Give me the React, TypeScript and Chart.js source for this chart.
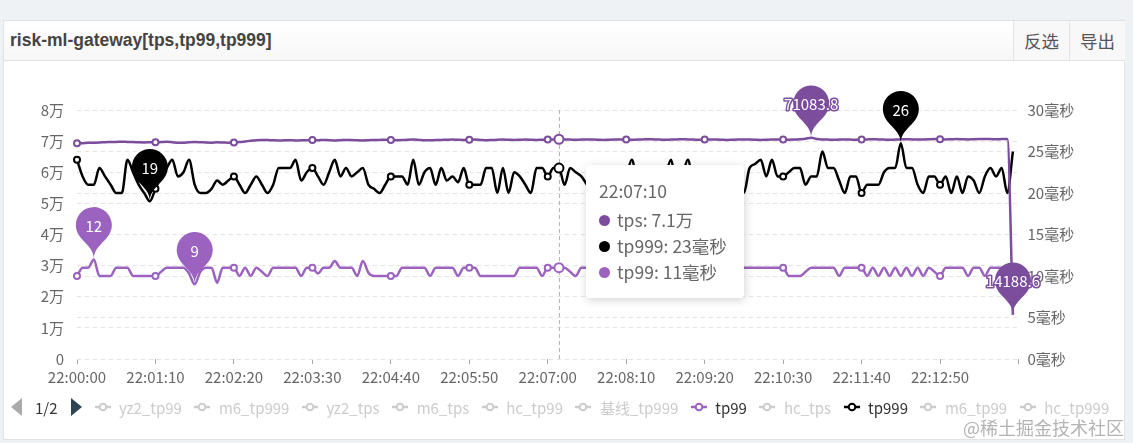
import React, { useEffect, useRef } from 'react';
import { Chart, registerables } from 'chart.js';

Chart.register(...registerables);

const FONT = '"Noto Sans CJK SC", "Noto Sans", sans-serif';

// ---------- categories (5-second samples from 22:00:00) ----------
const START_SECONDS = 22 * 3600;
const STEP_SECONDS = 5;
const CATEGORY_COUNT = 169;
const pad2 = (n: number) => (n < 10 ? '0' + n : String(n));
const categories: string[] = [];
for (let i = 0; i < CATEGORY_COUNT; i++) {
  const t = START_SECONDS + i * STEP_SECONDS;
  categories.push(`${pad2(Math.floor(t / 3600))}:${pad2(Math.floor((t % 3600) / 60))}:${pad2(t % 60)}`);
}
const LABEL_EVERY = 14;
const HOVER_INDEX = 86;

// ---------- series ----------
const tpsValues = [
  69300, 69350, 69450, 69500, 69550, 69650, 69700, 69750, 69800, 69750, 69700, 69600, 69550, 69650, 69600,
  69700, 69800, 69650, 69450, 69500, 69650, 69700, 69650, 69550, 69500, 69600, 69550, 69500, 69550,
  69700, 69900, 70100, 70300, 70400, 70350, 70250, 70200, 70250, 70300, 70200, 70250, 70300, 70350,
  70250, 70400, 70300, 70200, 70300, 70400, 70350, 70250, 70200, 70300, 70350, 70400, 70450, 70400,
  70300, 70350, 70450, 70500, 70400, 70300, 70250, 70350, 70400, 70450, 70500, 70450, 70400, 70450,
  70500, 70400, 70300, 70350, 70450, 70500, 70450, 70400, 70450, 70500, 70450, 70400, 70450, 70500,
  70550, 70600, 70550, 70500, 70450, 70500, 70550, 70500, 70450, 70400, 70450, 70500, 70550, 70500,
  70450, 70500, 70550, 70600, 70550, 70500, 70450, 70500, 70550, 70600, 70550, 70500, 70450, 70500,
  70550, 70500, 70450, 70400, 70450, 70500, 70550, 70500, 70450, 70400, 70450, 70500, 70550, 70500,
  70450, 70500, 70600, 70750, 71083.8, 70700, 70550, 70500, 70450, 70500, 70550, 70500, 70450, 70500,
  70550, 70600, 70550, 70500, 70450, 70500, 70550, 70600, 70550, 70500, 70550, 70600, 70650, 70600,
  70550, 70600, 70650, 70600, 70550, 70600, 70650, 70700, 70650, 70600, 70650, 70700, 14188.6,
];

const tp999Values = [
  24, 22, 21, 21, 23, 22, 21, 20, 20, 24, 22.5, 21, 20, 19,
  20.5, 22, 23, 24, 22, 22.5, 24, 21, 20, 20, 20.5, 21.5, 21, 21.5,
  22, 21, 20, 21, 22, 21, 20, 21, 23, 23, 23, 24, 21.5, 22.5,
  23, 22, 21, 22.5, 24, 22, 23, 22, 22.5, 23, 21, 20.5, 20, 21,
  22, 22, 22, 21, 24, 21, 22.5, 23, 21, 23, 21.5, 22, 21.3, 23,
  21, 21, 21, 23, 23, 20, 23, 20, 22.5, 22, 21, 20, 23, 23,
  22, 23, 23, 21, 23, 22.5, 22, 21, 20, 22, 21, 20, 22, 21,
  22, 24, 21, 20, 21, 22, 20, 22, 24, 21, 22, 24, 21, 20,
  21, 22, 20, 21, 22, 21, 20.5, 20, 23, 23.5, 24, 22, 24, 22,
  22, 22.5, 23, 23, 21, 22, 22, 25, 23, 23, 21.5, 20, 22, 22,
  20, 21, 21, 21, 22.5, 23, 23, 26, 23, 23, 21, 20, 22, 22,
  21, 22, 20, 22, 20, 22, 21.5, 20, 22, 23, 22, 23, 20, 25,
];

const tp99Values = [
  10, 11, 11, 12, 10, 10, 10, 11, 11, 11, 10, 10, 10, 10,
  10, 10.5, 11, 11, 11, 11, 10.3, 9, 10.5, 11, 11, 9.2, 11, 11,
  11, 10, 11, 10, 11, 10.5, 10, 11, 11, 11, 11, 11, 10, 11,
  11, 10.3, 11, 11, 11.8, 11, 11, 11, 10, 11.8, 10.4, 10, 10, 10,
  10, 10, 11, 11, 11, 11, 11, 10, 11, 11, 11, 11, 10, 11,
  11, 11, 10, 10, 10, 10, 10, 10, 10, 11, 11, 11, 11, 10,
  11, 11, 11, 11, 10.5, 10, 11, 11, 11, 10, 10, 11, 11, 11,
  10, 11, 11, 10, 10, 11, 11, 11, 10, 11, 11, 11, 10, 10,
  11, 11, 11, 10, 11, 11, 11, 11, 11, 11, 11, 11, 11, 11,
  11, 10, 10, 10, 10.5, 11, 11, 11, 11, 11, 10, 11, 11, 11,
  11, 10, 11, 10, 11, 10, 11, 10, 11, 10, 11, 10, 11, 10.5,
  10, 11, 11, 11, 11, 10, 11, 11, 10, 11, 11, 11, 10, 10,
];

// ---------- axes ----------
const LEFT_MAX = 80000;
const LEFT_STEP = 10000;
const RIGHT_MAX = 30;
const RIGHT_STEP = 5;

// ---------- legend ----------
const legendNames = ['yz2_tp99', 'm6_tp999', 'yz2_tps', 'm6_tps', 'hc_tp99', '基线_tp999', 'tp99', 'hc_tps', 'tp999', 'm6_tp99', 'hc_tp999'];

const TPS_COLOR = '#7b4d9c';
const TP99_COLOR = '#9b63bf';
const TP999_COLOR = '#000000';
const INACTIVE = '#cccccc';
const legendColors: Record<string, string> = { tp99: TP99_COLOR, tp999: TP999_COLOR };

const pinColors: Record<string, string> = { tps: TPS_COLOR, tp999: TP999_COLOR, tp99: TP99_COLOR };

function drawPin(ctx: CanvasRenderingContext2D, x: number, y: number, color: string, text: string) {
  const S = 60;
  const w = S * 0.6;
  const h = S;
  const r = w / 2;
  const dy = (r * r) / (h - r);
  const cy = y - h + r + dy;
  const angle = Math.asin(dy / r);
  const dx = Math.cos(angle) * r;
  const tanX = Math.sin(angle);
  const tanY = Math.cos(angle);
  const cpLen = r * 0.6;
  const cpLen2 = r * 0.7;
  ctx.save();
  ctx.beginPath();
  ctx.moveTo(x - dx, cy + dy);
  ctx.arc(x, cy, r, Math.PI - angle, Math.PI * 2 + angle);
  ctx.bezierCurveTo(x + dx - tanX * cpLen, cy + dy + tanY * cpLen, x, y - cpLen2, x, y);
  ctx.bezierCurveTo(x, y - cpLen2, x - dx + tanX * cpLen, cy + dy + tanY * cpLen, x - dx, cy + dy);
  ctx.closePath();
  ctx.fillStyle = color;
  ctx.fill();
  ctx.font = `15px ${FONT}`;
  ctx.textAlign = 'center';
  ctx.textBaseline = 'middle';
  ctx.lineJoin = 'round';
  ctx.lineWidth = 3;
  ctx.strokeStyle = color;
  ctx.strokeText(text, x, cy + 1);
  ctx.fillStyle = '#ffffff';
  ctx.fillText(text, x, cy + 1);
  ctx.restore();
}

const pinPlugin = {
  id: 'pins',
  afterDatasetsDraw(chart: any) {
    const ctx = chart.ctx;
    chart.data.datasets.forEach((ds: any, di: number) => {
      const meta = chart.getDatasetMeta(di);
      const vals = ds.data as number[];
      let maxI = 0;
      let minI = 0;
      vals.forEach((v, i) => {
        if (v > vals[maxI]) maxI = i;
        if (v < vals[minI]) minI = i;
      });
      [maxI, minI].forEach((idx) => {
        const el = meta.data[idx];
        if (el) drawPin(ctx, el.x, el.y, pinColors[ds.label], String(vals[idx]));
      });
    });
  },
};

const axisPointerPlugin = {
  id: 'axisPointer',
  beforeDatasetsDraw(chart: any) {
    const x = Math.round(chart.scales.x.getPixelForValue(HOVER_INDEX)) + 0.5;
    const { top, bottom } = chart.chartArea;
    const ctx = chart.ctx;
    ctx.save();
    ctx.strokeStyle = '#b5b5b5';
    ctx.lineWidth = 1;
    ctx.setLineDash([4, 3]);
    ctx.beginPath();
    ctx.moveTo(x, top);
    ctx.lineTo(x, bottom);
    ctx.stroke();
    ctx.restore();
  },
};

const pointRadius = (c: any) => (c.dataIndex === HOVER_INDEX ? 4.5 : c.dataIndex % LABEL_EVERY === 0 ? 3 : 0);

function lineDataset(label: string, data: number[], color: string, axis: string) {
  return {
    label,
    data,
    yAxisID: axis,
    borderColor: color,
    backgroundColor: color,
    borderWidth: 2.5,
    cubicInterpolationMode: 'monotone' as const,
    pointRadius,
    pointHoverRadius: pointRadius,
    pointBackgroundColor: '#ffffff',
    pointBorderColor: color,
    pointBorderWidth: 2,
    fill: false,
  };
}

function ChartCanvas() {
  const ref = useRef<HTMLCanvasElement>(null);
  useEffect(() => {
    Chart.defaults.font.family = FONT;
    const chart = new Chart(ref.current as HTMLCanvasElement, {
      type: 'line',
      data: {
        labels: categories,
        datasets: [
          lineDataset('tps', tpsValues, TPS_COLOR, 'y'),
          lineDataset('tp999', tp999Values, TP999_COLOR, 'y1'),
          lineDataset('tp99', tp99Values, TP99_COLOR, 'y1'),
        ],
      },
      options: {
        animation: false,
        responsive: false,
        devicePixelRatio: 1,
        events: [],
        layout: { padding: { top: 110, bottom: 44, left: 0, right: 0 } },
        plugins: { legend: { display: false }, tooltip: { enabled: false } },
        scales: {
          x: {
            type: 'category',
            offset: false,
            afterFit: (s: any) => { s.height = 40; },
            border: { display: false },
            grid: {
              display: true,
              drawOnChartArea: false,
              drawTicks: true,
              tickLength: 5,
              color: 'rgba(0,0,0,0)',
              tickColor: (c: any) => (c.index % LABEL_EVERY === 0 ? '#a8a8a8' : 'rgba(0,0,0,0)'),
            },
            ticks: {
              autoSkip: false,
              maxRotation: 0,
              minRotation: 0,
              padding: 4,
              color: '#666666',
              font: { size: 15 },
              callback: (_v: any, i: number) => (i % LABEL_EVERY === 0 && i < CATEGORY_COUNT - 1 ? categories[i] : ''),
            },
          },
          y: {
            position: 'left',
            min: 0,
            max: LEFT_MAX,
            afterFit: (s: any) => { s.width = 77; },
            border: { display: false, dash: [4, 4] },
            grid: { color: '#e4e4e4', drawTicks: false },
            ticks: {
              stepSize: LEFT_STEP,
              padding: 13,
              color: '#666666',
              font: { size: 15 },
              callback: (v: any) => (v === 0 ? '0' : v / 10000 + '万'),
            },
          },
          y1: {
            position: 'right',
            min: 0,
            max: RIGHT_MAX,
            afterFit: (s: any) => { s.width = 1133 - 1018.5; },
            border: { display: false, dash: [4, 4] },
            grid: { color: '#e4e4e4', drawTicks: false },
            ticks: {
              stepSize: RIGHT_STEP,
              padding: 9,
              color: '#666666',
              font: { size: 15 },
              callback: (v: any) => v + '毫秒',
            },
          },
        },
      },
      plugins: [axisPointerPlugin, pinPlugin],
    } as any);
    return () => chart.destroy();
  }, []);
  return (
    <canvas
      ref={ref}
      width={1133}
      height={443}
      style={{ position: 'absolute', left: 0, top: 0, width: 1133, height: 443 }}
    />
  );
}

function LegendIcon({ color }: { color: string }) {
  return (
    <svg width="16" height="10" style={{ display: 'block' }}>
      <line x1="0" y1="5" x2="16" y2="5" stroke={color} strokeWidth="2.5" />
      <circle cx="8" cy="5" r="3.3" fill="#fff" stroke={color} strokeWidth="2" />
    </svg>
  );
}

function Tooltip() {
  const rows = [
    { name: 'tps', color: TPS_COLOR, text: (tpsValues[HOVER_INDEX] / 10000).toFixed(1) + '万' },
    { name: 'tp999', color: TP999_COLOR, text: tp999Values[HOVER_INDEX] + '毫秒' },
    { name: 'tp99', color: TP99_COLOR, text: tp99Values[HOVER_INDEX] + '毫秒' },
  ];
  return (
    <div
      style={{
        position: 'absolute', left: 586, top: 165, width: 158, height: 133, boxSizing: 'border-box',
        padding: '13px 13px', background: '#fff', borderRadius: 4,
        boxShadow: '1px 2px 10px rgba(0,0,0,0.18)', color: '#666', fontSize: 17.5, lineHeight: '26px',
        fontFamily: FONT, whiteSpace: 'nowrap',
      }}
    >
      <div style={{ marginBottom: 3 }}>{categories[HOVER_INDEX]}</div>
      {rows.map((r) => (
        <div key={r.name} style={{ display: 'flex', alignItems: 'center' }}>
          <span style={{ display: 'inline-block', width: 11, height: 11, borderRadius: '50%', background: r.color, marginRight: 7 }} />
          <span>{r.name}: {r.text}</span>
        </div>
      ))}
    </div>
  );
}

export default function App() {
  return (
    <div style={{ position: 'fixed', left: 0, top: 0, width: 1133, height: 443, background: '#eef2f5', overflow: 'hidden', fontFamily: FONT }}>
      {/* panel */}
      <div style={{ position: 'absolute', left: 3, top: 20, width: 1122, height: 420, background: '#fff', border: '1px solid #e2e2e2', boxSizing: 'border-box' }} />
      {/* header */}
      <div style={{ position: 'absolute', left: 4, top: 21, width: 1120, height: 39, background: 'linear-gradient(#ffffff, #f7f7f7)', borderBottom: '1px solid #e2e2e2' }} />
      <div style={{ position: 'absolute', left: 10, top: 21, height: 39, lineHeight: '39px', fontFamily: '"Liberation Sans", Arial, sans-serif', fontWeight: 'bold', fontSize: 17.5, color: '#444' }}>
        risk-ml-gateway[tps,tp99,tp999]
      </div>
      <div style={{ position: 'absolute', left: 1013, top: 21, width: 56, height: 39, borderLeft: '1px solid #e2e2e2', boxSizing: 'border-box', textAlign: 'center', lineHeight: '39px', fontSize: 17.5, color: '#555', background: '#f8f8f8' }}>反选</div>
      <div style={{ position: 'absolute', left: 1069, top: 21, width: 56, height: 39, borderLeft: '1px solid #e2e2e2', boxSizing: 'border-box', textAlign: 'center', lineHeight: '39px', fontSize: 17.5, color: '#555', background: '#f8f8f8' }}>导出</div>

      <ChartCanvas />

      {/* legend */}
      <div style={{ position: 'absolute', left: 11, top: 397, height: 20, display: 'flex', alignItems: 'center', whiteSpace: 'nowrap', fontSize: 15 }}>
        <span style={{ width: 0, height: 0, borderTop: '9px solid transparent', borderBottom: '9px solid transparent', borderRight: '11px solid #aaaaaa', marginRight: 13 }} />
        <span style={{ color: '#333', marginRight: 13 }}>1/2</span>
        <span style={{ width: 0, height: 0, borderTop: '9px solid transparent', borderBottom: '9px solid transparent', borderLeft: '11px solid #2f4554', marginRight: 13 }} />
        {legendNames.map((n) => {
          const c = legendColors[n];
          return (
            <span key={n} style={{ display: 'flex', alignItems: 'center', marginRight: 12.5 }}>
              <LegendIcon color={c || INACTIVE} />
              <span style={{ marginLeft: 8.5, color: c ? '#333' : INACTIVE }}>{n}</span>
            </span>
          );
        })}
      </div>

      <Tooltip />

      <div style={{ position: 'absolute', left: 963, top: 414, fontSize: 18, color: 'rgba(160,160,160,0.8)', whiteSpace: 'nowrap' }}>@稀土掘金技术社区</div>
    </div>
  );
}
